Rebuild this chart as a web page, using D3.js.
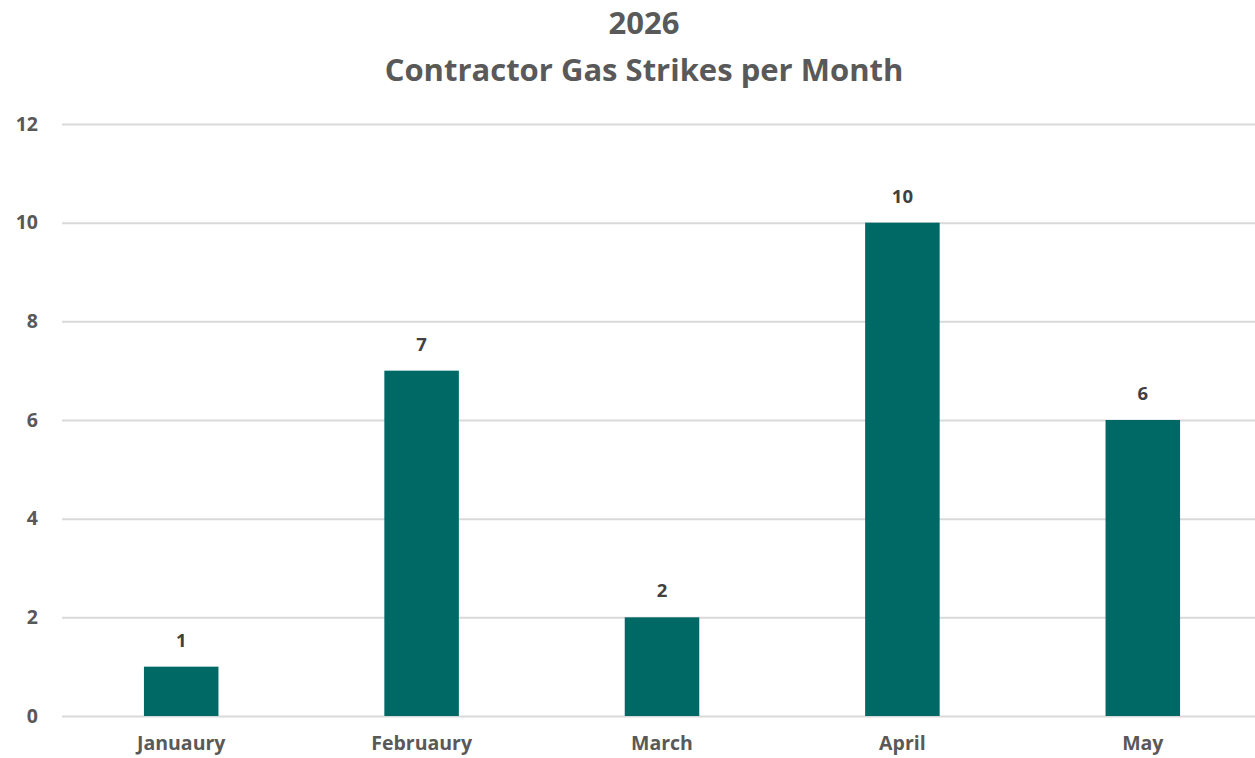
<!DOCTYPE html>
<html>
<head>
<meta charset="utf-8">
<script src="https://cdn.jsdelivr.net/npm/d3@7"></script>
<style>
  body { margin: 0; background: #fff; }
  text { font-family: "Open Sans", "Liberation Sans", sans-serif; font-weight: bold; }
</style>
</head>
<body>
<script>
'use strict';

const months = ["Januaury", "Februaury", "March", "April", "May"];
const strikes = [1, 7, 2, 10, 6];
const yTicks = [0, 2, 4, 6, 8, 10, 12];
const titleLines = ["2026", "Contractor Gas Strikes per Month"];

(function () {
  const width = 1255, height = 758;
  const svg = d3.select('body').append('svg')
    .attr('width', width)
    .attr('height', height);

  // scales
  let xScale = d3.scaleBand()
    .domain(months)
    .range([61, 1263])
    .paddingInner(0.69)
    .paddingOuter(0.345);

  let yScale = d3.scaleLinear()
    .domain([0, 12])
    .range([716, 124]);

  // gridlines + y labels
  let yAxis = d3.axisLeft(yScale)
    .tickValues(yTicks)
    .tickSize(-(1255 - 62))
    .tickPadding(24);
  let gy = svg.append('g')
    .attr('transform', 'translate(62, 0)')
    .call(yAxis);
  gy.select('.domain').remove();
  gy.selectAll('.tick line')
    .attr('stroke', '#d9d9d9')
    .attr('stroke-width', 2);
  gy.selectAll('.tick text')
    .attr('fill', '#595959')
    .style('font-size', '19.5px');

  // bars
  svg.selectAll('.bar')
    .data(months)
    .enter()
    .append('rect')
    .attr('x', d => xScale(d))
    .attr('width', xScale.bandwidth())
    .attr('y', (d, i) => yScale(strikes[i]))
    .attr('height', (d, i) => yScale(0) - yScale(strikes[i]))
    .attr('fill', '#006966');

  // value labels
  svg.selectAll('.val')
    .data(months)
    .enter()
    .append('text')
    .attr('x', d => xScale(d) + xScale.bandwidth() / 2)
    .attr('y', (d, i) => yScale(strikes[i]) - 20)
    .attr('text-anchor', 'middle')
    .attr('fill', '#404040')
    .style('font-size', '18.5px')
    .text((d, i) => strikes[i]);

  // x labels
  let xAxis = d3.axisBottom(xScale).tickSize(0).tickPadding(20);
  let gx = svg.append('g')
    .attr('transform', 'translate(0, 716)')
    .call(xAxis);
  gx.select('.domain').remove();
  gx.selectAll('.tick text')
    .attr('fill', '#595959')
    .style('font-size', '19.5px');

  // title
  svg.selectAll('.title')
    .data(titleLines)
    .enter()
    .append('text')
    .attr('x', 644)
    .attr('y', (d, i) => 34 + i * 47)
    .attr('text-anchor', 'middle')
    .attr('fill', '#595959')
    .style('font-size', '31px')
    .text(d => d);
})();
</script>
</body>
</html>
